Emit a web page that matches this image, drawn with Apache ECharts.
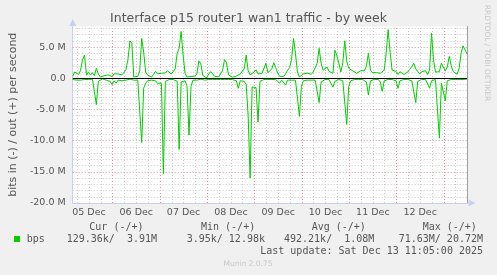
<!DOCTYPE html>
<html>
<head>
<meta charset="utf-8">
<script src="https://cdn.jsdelivr.net/npm/echarts@6/dist/echarts.min.js"></script>
<style>html,body{margin:0;padding:0;background:#f0f0f0;}#c{width:497px;height:275px;}</style>
</head>
<body>
<div id="c"></div>
<script>
// Time: hours since 05 Dec 00:00; one sample per hour
const START_HOUR = 3.75;
const STEP_HOUR = 1;
const END_HOUR = 203.75;

// Outbound traffic (M bits/s), plotted above zero
const outMbps = [
 0.3,1.0,0.8,0.6,1.3,3.0,3.7,0.5,1.0,0.5,
 0.9,0.4,1.6,0.7,0.2,0.15,0.4,0.7,0.55,0.7,
 0.3,0.7,0.8,0.7,0.9,0.55,0.9,1.4,2.9,6.0,
 5.6,0.2,0.15,0.3,1.2,6.4,4.2,1.0,0.5,0.2,
 0.2,0.6,1.1,0.7,0.4,0.8,0.6,0.85,1.2,0.9,
 0.7,0.8,1.5,4.0,4.8,7.5,3.7,0.8,0.2,0.5,
 0.3,0.2,0.35,0.7,2.8,2.3,0.45,0.4,0.05,0.7,
 1.05,0.7,0.3,0.2,0.25,0.3,1.2,3.0,2.5,0.55,
 0.25,0.15,0.2,0.35,0.5,0.7,0.7,1.5,3.7,1.2,
 0.55,0.8,1.0,1.35,0.7,0.55,0.75,1.0,2.4,0.9,
 1.0,1.5,2.5,1.7,0.8,0.3,0.5,0.3,0.7,1.3,
 1.7,3.0,6.4,4.0,1.0,0.2,0.35,0.7,0.55,0.8,
 0.6,0.65,1.0,1.3,2.4,4.8,2.4,1.3,1.2,1.8,
 1.1,1.3,0.8,4.5,3.6,2.4,1.0,2.5,6.0,2.7,
 1.6,1.7,1.2,1.25,0.8,0.9,1.2,1.0,1.2,2.0,
 4.0,1.3,0.9,1.2,0.9,1.1,0.8,1.0,1.3,4.0,
 7.8,4.2,1.3,1.0,1.1,0.6,1.05,0.8,0.6,0.65,
 1.0,1.45,1.9,2.4,1.5,1.1,0.7,1.05,1.0,1.2,
 0.6,1.3,7.2,3.0,1.0,0.85,1.05,2.4,2.5,1.2,
 1.8,3.5,2.0,1.1,0.8,0.65,1.6,4.0,5.2,5.1,
 3.9
];

// Inbound traffic (M bits/s), plotted below zero
const inMbps = [
 0.2,0.1,0.3,0.2,0.3,0.15,0.2,0.4,0.2,0.3,
 0.15,0.3,4.2,0.5,0.2,0.1,0.2,0.3,0.2,0.5,
 1.0,0.4,0.8,0.3,0.2,0.4,0.2,0.3,0.2,0.15,
 0.2,0.3,0.2,0.3,0.4,10.3,1.6,0.8,0.4,0.2,
 0.3,0.2,0.4,0.8,0.6,0.8,15.3,0.5,0.3,0.2,
 0.3,0.2,0.3,0.5,11.4,0.6,0.3,0.4,1.3,9.1,
 1.3,0.3,0.2,0.3,0.2,0.15,0.2,0.3,0.5,0.2,
 0.3,0.2,0.15,0.2,0.3,0.2,0.15,0.2,0.3,0.2,
 0.3,0.2,0.3,0.4,1.6,0.4,0.3,0.5,1.0,6.0,
 16.0,1.4,1.1,1.5,7.0,0.5,0.3,0.2,0.3,0.2,
 0.3,0.2,0.3,0.2,0.4,0.8,0.3,0.4,1.1,0.3,
 0.2,0.3,0.2,0.3,0.4,6.1,1.3,0.4,0.2,0.3,
 0.2,0.3,0.2,0.3,0.4,3.9,0.6,0.3,0.2,0.3,
 0.2,0.4,1.4,0.5,0.3,0.2,0.3,0.4,0.6,7.4,
 1.3,0.4,0.3,0.2,0.3,0.2,0.3,0.2,0.4,0.6,
 2.7,0.4,0.3,0.2,0.3,0.2,0.6,2.1,0.4,0.3,
 0.2,0.3,0.2,0.3,0.4,1.6,0.4,0.3,0.2,0.3,
 0.2,0.3,0.4,0.5,3.9,0.5,0.3,0.2,0.3,0.2,
 0.5,1.6,0.4,0.3,0.2,0.3,9.6,0.8,0.5,3.6,
 0.4,0.3,0.2,0.3,0.2,0.3,0.2,0.15,0.2,0.2,
 0.13
];

const dayLabels = ['05 Dec','06 Dec','07 Dec','08 Dec','09 Dec','10 Dec','11 Dec','12 Dec'];
const dayLabelHours = [12,36,60,84,108,132,156,180];
const yTicks = [-20,-15,-10,-5,0,5];
const Y_MIN = -20, Y_MAX = 8.3;

const legendHeaders = ['Cur (-/+)','Min (-/+)','Avg (-/+)','Max (-/+)'];
const legendValues = ['129.36k/  3.91M','3.95k/ 12.98k','492.21k/  1.08M','71.63M/ 20.72M'];
const seriesName = 'bps';
const lastUpdate = 'Last update: Sat Dec 13 11:05:00 2025';

const GREEN = '#00cc00';
const TXT = '#555555';
const minorStyle = {color:'#cccccc', width:1, type:[1,2]};
const majorStyle = {color:'#e79494', width:1, type:[1,2]};

const gridLines = [];
for (let h = 6; h < END_HOUR; h += 6) {
  gridLines.push({xAxis: h, lineStyle: (h % 24 === 0) ? majorStyle : minorStyle});
}
for (let v = Y_MIN + 1; v <= Math.floor(Y_MAX); v++) {
  if (v === 0) continue;
  gridLines.push({yAxis: v, lineStyle: (v % 5 === 0) ? majorStyle : minorStyle});
}

const outData = outMbps.map((v, i) => [START_HOUR + i * STEP_HOUR, v]);
const inData = inMbps.map((v, i) => [START_HOUR + i * STEP_HOUR, -v]);

const chart = echarts.init(document.getElementById('c'), null, {renderer:'canvas'});
const mono = '10px "DejaVu Sans Mono"';
const headerX = [89.3, 201, 311.7, 422.7];
const valueX = [66.7, 186.7, 284, 398.7];
const graphics = [];
legendHeaders.forEach((t, i) => graphics.push({type:'text', x:headerX[i], y:227.5, style:{text:t, font:mono, fill:TXT, align:'left', verticalAlign:'middle'}}));
legendValues.forEach((t, i) => graphics.push({type:'text', x:valueX[i], y:239, style:{text:t, font:mono, fill:TXT, align:'left', verticalAlign:'middle'}}));
graphics.push({type:'rect', shape:{x:14, y:236, width:6, height:6}, style:{fill:GREEN}});
graphics.push({type:'text', x:26.7, y:239, style:{text:seriesName, font:mono, fill:TXT, align:'left', verticalAlign:'middle'}});
graphics.push({type:'text', x:483, y:251, style:{text:lastUpdate, font:mono, fill:TXT, align:'right', verticalAlign:'middle'}});
graphics.push({type:'text', x:248, y:264, style:{text:'Munin 2.0.75', font:'7.5px "DejaVu Sans"', fill:'#c8c8c8', align:'center', verticalAlign:'middle'}});
graphics.push({type:'text', x:487, y:53, rotation:-Math.PI/2, style:{text:'RRDTOOL / TOBI OETIKER', font:'7.5px "DejaVu Sans"', fill:'#c8c8c8', align:'center', verticalAlign:'middle'}});

const option = {
  animation: false,
  backgroundColor: '#f0f0f0',
  title: {
    text: 'Interface p15 router1 wan1 traffic - by week',
    left: 'center', top: 7,
    textStyle: {color: TXT, fontSize: 12.5, fontWeight: 'normal', fontFamily: 'DejaVu Sans'}
  },
  grid: {left: 67, right: 30, top: 26.5, bottom: 72, show: true, backgroundColor: '#ffffff', borderWidth: 0},
  xAxis: {
    type: 'value', min: START_HOUR, max: END_HOUR,
    axisLine: {show: true, onZero: false, lineStyle: {color: '#c9d0f2', width: 1}, symbol: ['none','triangle'], symbolSize: [7,7], symbolOffset: [0,5]},
    axisTick: {show: false},
    splitLine: {show: false},
    axisLabel: {
      customValues: dayLabelHours,
      formatter: v => { const k = dayLabelHours.indexOf(Math.round(v)); return k >= 0 ? dayLabels[k] : ''; },
      color: TXT, fontSize: 9.5, fontFamily: 'DejaVu Sans', margin: 5
    }
  },
  yAxis: [{
    type: 'value', min: Y_MIN, max: Y_MAX, interval: 5, position: 'left',
    name: 'bits in (-) / out (+) per second', nameLocation: 'middle', nameGap: 52,
    nameTextStyle: {color: TXT, fontSize: 11, fontFamily: 'DejaVu Sans'},
    axisLine: {show: true, onZero: false, lineStyle: {color: '#c9d0f2', width: 1}, symbol: ['none','triangle'], symbolSize: [7,7], symbolOffset: [0,4]},
    axisTick: {show: false},
    splitLine: {show: false},
    axisLabel: {
      showMaxLabel: false, color: TXT, fontSize: 9.5, fontFamily: 'DejaVu Sans', margin: 7,
      formatter: v => { if (Math.abs(v) < 1e-9) return '0.0'; return yTicks.indexOf(v) >= 0 ? v.toFixed(1) + ' M' : ''; }
    }
  }, {
    type: 'value', min: Y_MIN, max: Y_MAX, position: 'right',
    axisLine: {show: true, onZero: false, lineStyle: {color: '#a0a0a0', width: 1}},
    axisTick: {show: false}, axisLabel: {show: false}, splitLine: {show: false}
  }],
  series: [
    {type: 'line', data: [], z: 1, silent: true,
     markLine: {silent: true, z: 1, symbol: ['none','none'], animation: false, label: {show: false}, data: gridLines}},
    {type: 'line', name: 'in', data: inData, showSymbol: false, z: 3, silent: true,
     lineStyle: {color: GREEN, width: 1}, itemStyle: {color: GREEN}},
    {type: 'line', name: 'out', data: outData, showSymbol: false, z: 3, silent: true,
     lineStyle: {color: GREEN, width: 1}, itemStyle: {color: GREEN}},
    {type: 'line', data: [], z: 10, silent: true,
     markLine: {silent: true, z: 10, symbol: ['none','none'], animation: false, label: {show: false},
       data: [{yAxis: 0, lineStyle: {color: '#000000', width: 1, type: 'solid'}}]}}
  ],
  graphic: graphics
};
chart.setOption(option);
</script>
</body>
</html>
